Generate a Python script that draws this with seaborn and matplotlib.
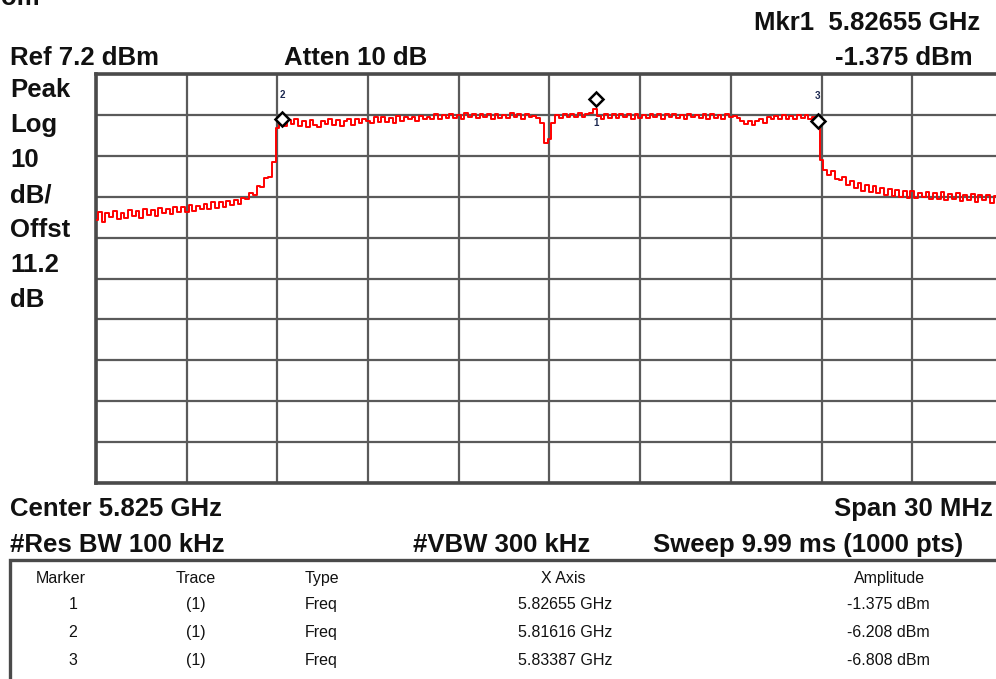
import numpy as np
import matplotlib
matplotlib.use("Agg")
import matplotlib.pyplot as plt
import seaborn as sns
from matplotlib.patches import Rectangle
from matplotlib.transforms import offset_copy

# analyzer settings
center_ghz = 5.825
span_ghz = 0.030
ref_dbm = 7.2
db_per_div = 10

# trace (dBm), 241 points across the span
trace_dbm = [
    -28.6, -26.5, -28.9, -26.9, -27.8, -26.2, -28.3, -26.8, -27.9, -26.1,
    -27.6, -26.4, -27.9, -25.8, -27.2, -26.0, -27.5, -25.6, -26.9, -25.9,
    -27.0, -25.4, -26.6, -25.2, -26.5, -24.9, -26.3, -25.0, -25.9, -24.6,
    -25.8, -24.2, -25.5, -24.0, -25.3, -23.9, -24.8, -23.5, -24.6, -23.0,
    -23.4, -21.9, -22.3, -20.2, -20.5, -18.3, -17.9, -14.2, -6.0, -4.4,
    -5.6, -4.1, -5.0, -3.9, -5.5, -4.3, -5.8, -4.0, -5.2, -5.7,
    -4.2, -5.1, -3.8, -5.3, -4.0, -5.6, -4.4, -3.9, -5.2, -3.8,
    -4.9, -3.7, -4.3, -4.9, -3.4, -4.6, -3.2, -4.5, -3.5, -4.7,
    -3.1, -4.3, -3.4, -3.9, -3.2, -4.2, -3.0, -3.9, -3.3, -3.8,
    -2.6, -3.7, -2.8, -3.6, -2.5, -3.5, -2.9, -3.7, -2.4, -3.4,
    -2.7, -3.6, -2.5, -3.4, -2.6, -3.7, -2.5, -3.5, -2.8, -3.6,
    -2.4, -3.3, -2.7, -3.7, -2.6, -3.4, -3.0, -3.6, -4.9, -9.6,
    -8.8, -4.7, -2.8, -3.5, -2.6, -3.4, -2.5, -3.3, -2.4, -3.2,
    -2.7, -2.3, -1.4, -3.0, -3.7, -2.6, -3.5, -2.5, -3.6, -2.7,
    -3.4, -2.5, -3.7, -2.6, -3.5, -2.8, -3.6, -2.5, -3.3, -2.7,
    -3.8, -2.6, -3.4, -2.5, -3.6, -2.8, -3.7, -2.6, -3.4, -2.9,
    -3.6, -2.7, -3.8, -2.6, -3.5, -2.8, -3.7, -2.5, -3.4, -3.0,
    -3.6, -4.3, -5.1, -4.2, -5.2, -4.4, -3.9, -4.8, -3.3, -3.9,
    -3.0, -3.8, -2.8, -3.7, -3.0, -3.9, -2.9, -3.6, -2.8, -3.7,
    -3.4, -5.0, -13.9, -16.2, -17.4, -16.6, -18.5, -18.7, -18.0, -19.9,
    -19.0, -20.6, -19.5, -21.3, -20.0, -21.6, -20.3, -21.9, -20.6, -22.3,
    -21.0, -22.6, -21.2, -22.8, -21.3, -23.1, -21.5, -23.2, -21.8, -22.9,
    -21.6, -23.4, -22.0, -23.3, -21.7, -23.5, -22.1, -23.4, -21.9, -23.8,
    -22.3, -23.6, -22.1, -24.0, -22.5, -23.7, -22.4, -24.3, -22.7, -23.9,
    -23.2,
]

# markers
mk_id = ["1", "2", "3"]
mk_freq = [5.82655, 5.81616, 5.83387]
mk_amp = [-1.375, -6.208, -6.808]

# marker table
tbl_header = ["Marker", "Trace", "Type", "X Axis", "Amplitude"]
tbl_trace = ["(1)", "(1)", "(1)"]
tbl_type = ["Freq", "Freq", "Freq"]
tbl_x = ["5.82655 GHz", "5.81616 GHz", "5.83387 GHz"]
tbl_amp = ["-1.375 dBm", "-6.208 dBm", "-6.808 dBm"]

side_labels = ["Peak", "Log", "10", "dB/", "Offst", "11.2", "dB"]

start = center_ghz - span_ghz / 2
stop = center_ghz + span_ghz / 2
freq_ghz = np.linspace(start, stop, len(trace_dbm))

sns.set_theme(style="white")
plt.rcParams["font.family"] = ["Liberation Sans", "DejaVu Sans"]

W, H = 996, 679
fig = plt.figure(figsize=(W / 100, H / 100), dpi=100)
fig.patch.set_facecolor("white")

# plot area in pixels: left 96, top 74, right 1003 (past the edge), bottom 483
ax = fig.add_axes([96 / W, 1 - 483 / H, (1003 - 96) / W, (483 - 74) / H])
ax.set_facecolor("white")

sns.lineplot(x=freq_ghz, y=trace_dbm, ax=ax, color="#ff0000", lw=1.4,
             drawstyle="steps-mid", estimator=None, sort=False, zorder=3)

ax.set_xlim(start, stop)
ax.set_ylim(ref_dbm - 10 * db_per_div, ref_dbm)
ax.set_xticks(np.linspace(start, stop, 11))
ax.set_yticks(np.linspace(ref_dbm - 10 * db_per_div, ref_dbm, 11))
ax.grid(True, color="#5a5a5a", lw=1.6)
ax.tick_params(length=0, labelbottom=False, labelleft=False)
ax.set_xlabel("")
ax.set_ylabel("")
for s in ax.spines.values():
    s.set_color("#4a4a4a")
    s.set_linewidth(2.6)

# marker diamonds sit just above the marked point
tr = offset_copy(ax.transData, fig=fig, x=0, y=10, units="dots")
ax.plot(mk_freq, mk_amp, ls="none", marker="D", ms=7.5, mfc="white",
        mec="black", mew=1.8, transform=tr, zorder=5)
lab_off = {"1": (0, -14), "2": (0, 34), "3": (0, 35)}
for m, f, a in zip(mk_id, mk_freq, mk_amp):
    ax.annotate(m, (f, a), xytext=lab_off[m], textcoords="offset pixels",
                ha="center", va="center", fontsize=7, color="#1c2850",
                fontweight="bold", zorder=6)

bold = dict(fontsize=18.5, fontweight="bold", color="#111111")


def ftext(x, y, s, **kw):
    fig.text(x / W, 1 - y / H, s, va="baseline", **kw)


ftext(1, 5, "om", **bold)
ftext(10, 65, "Ref 7.2 dBm", **bold)
ftext(284, 65, "Atten 10 dB", **bold)
ftext(980, 30, "Mkr1  5.82655 GHz", ha="right", **bold)
ftext(973, 65, "-1.375 dBm", ha="right", **bold)
for i, s in enumerate(side_labels):
    ftext(10, 97 + 35 * i, s, **bold)

ftext(10, 516, "Center 5.825 GHz", **bold)
ftext(993, 516, "Span 30 MHz", ha="right", **bold)
ftext(10, 552, "#Res BW 100 kHz", **bold)
ftext(413, 552, "#VBW 300 kHz", **bold)
ftext(653, 552, "Sweep 9.99 ms (1000 pts)", **bold)

# marker table box (runs off the right and bottom edges)
fig.add_artist(Rectangle((10 / W, 1 - 720 / H), 1010 / W, 160 / H,
                         transform=fig.transFigure, fill=False,
                         ec="#4a4a4a", lw=2.4, clip_on=False))

reg = dict(fontsize=11.5, color="#111111")
col_x = [61, 196, 305, 563, 890]
col_ha = ["center", "center", "left", "center", "center"]
for x, ha, s in zip(col_x, col_ha, tbl_header):
    ftext(x, 583, s, ha=ha, **reg)
for r in range(3):
    y = 609 + 28 * r
    ftext(73, y, mk_id[r], ha="center", **reg)
    ftext(196, y, tbl_trace[r], ha="center", **reg)
    ftext(305, y, tbl_type[r], ha="left", **reg)
    ftext(565, y, tbl_x[r], ha="center", **reg)
    ftext(888, y, tbl_amp[r], ha="center", **reg)

fig.savefig("out.png", dpi=100)
